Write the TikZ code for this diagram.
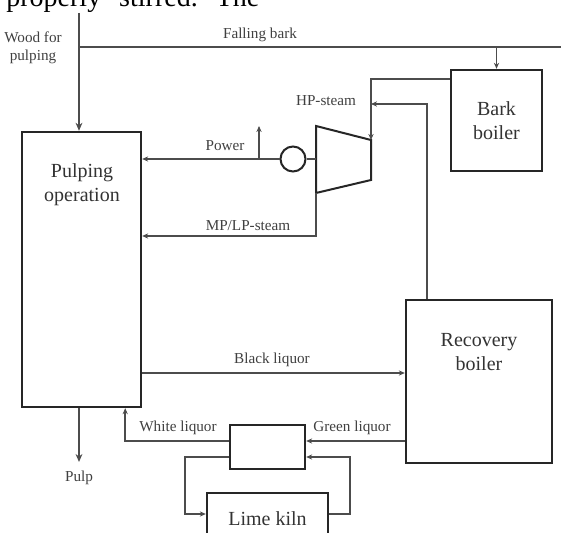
\documentclass[tikz,border=0pt]{standalone}
\usepackage{fontspec}
\setmainfont{Liberation Serif}
\usepackage{tikz}
\usetikzlibrary{arrows.meta,positioning,calc}

\begin{document}
\begin{tikzpicture}[x=0.5pt, y=-0.5pt,
    box/.style={draw=black!85, line width=1.2pt, inner sep=0pt, align=center,
      font=\fontsize{10}{12}\selectfont, text=black!80},
    flow/.style={draw=black!70, line width=0.8pt},
    arr/.style={flow, -{Stealth[length=3pt,width=2.6pt]}},
    lbl/.style={font=\fontsize{7.6}{9}\selectfont, text=black!75, inner sep=1pt, align=center},
    big/.style={font=\fontsize{10}{12}\selectfont, text=black!80, align=center}]
    \useasboundingbox (0,0) rectangle (561,533);
    \node[anchor=base west, inner sep=0pt, font=\fontsize{14}{16}\selectfont] (pagetext)
      at (6,7) {properly\hspace{9pt}stirred.\hspace{9pt}The};

    \node[box, minimum width=59.5pt, minimum height=137.5pt] (pulping) at (81.5,269.5) {};
    \node[big] (pulpingtxt) at (82,185) {Pulping\\operation};
    \node[box, minimum width=73pt, minimum height=81.5pt] (recovery) at (479,381.5) {};
    \node[big] (recoverytxt) at (479,352) {Recovery\\boiler};
    \node[box, minimum width=45.5pt, minimum height=50.5pt] (bark) at (496.5,120.5) {Bark\\boiler};
    \node[box, minimum width=37.5pt, minimum height=22pt] (caust) at (267.5,447) {};
    \node[box, minimum width=60.5pt, minimum height=26pt] (kiln) at (267.5,519) {Lime kiln};
    \node[draw=black!85, line width=1pt, circle, minimum size=12.5pt, inner sep=0pt] (gen) at (293,159) {};

    \coordinate (tnw) at (316,126);
    \coordinate (tne) at (371,140);
    \coordinate (tse) at (371,180);
    \coordinate (tsw) at (316,193);
    \draw[draw=black!85, line width=1pt] (tnw) -- (tne) -- (tse) -- (tsw) -- cycle;

    \coordinate (woodtop) at (79,13);
    \coordinate (barkend) at (561,47);
    \draw[flow, line width=1.1pt, -{Stealth[length=4pt,width=3.4pt]}] (woodtop) -- (woodtop |- pulping.north);
    \draw[flow] (woodtop |- barkend) -- (barkend);
    \draw[arr] (bark.north |- barkend) -- (bark.north);
    \node[lbl] (woodlbl) at (33,48) {Wood for\\pulping};
    \node[lbl] (barklbl) at (260,35) {Falling bark};

    \draw[arr] ($(bark.north west)+(0,10)$) -| (tne);
    \coordinate (hpjoin) at (371,104);
    \draw[arr] ($(recovery.north west)+(22,0)$) |- (hpjoin);
    \node[lbl] (hplbl) at (326,101) {HP-steam};

    \draw[flow] (gen.east) -- (gen.east -| tnw);
    \draw[arr] (gen.west) -- (gen.west -| pulping.east);
    \coordinate (powtap) at (259,159);
    \coordinate (powout) at (259,126);
    \draw[arr] (powtap) -- (powout);
    \node[lbl] (powlbl) at (225,146) {Power};

    \draw[arr] (tsw) |- ($(pulping.east)+(0,-33.5)$);
    \node[lbl] (mplbl) at (248,226) {MP/LP-steam};

    \coordinate (blk) at ($(pulping.east)+(0,103.5)$);
    \draw[arr] (blk) -- (blk -| recovery.west);
    \node[lbl] (blklbl) at (272,360) {Black liquor};

    \coordinate (grn) at ($(caust.east)+(0,-6)$);
    \draw[arr] (grn -| recovery.west) -- (grn);
    \node[lbl] (grnlbl) at (352,428) {Green liquor};
    \coordinate (wht) at ($(caust.west)+(0,-6)$);
    \draw[arr] (wht) -| ($(pulping.south east)+(-17,0)$);
    \node[lbl] (whtlbl) at (178,428) {White liquor};

    \coordinate (pulpend) at (79,462);
    \draw[flow, line width=1.1pt, -{Stealth[length=4pt,width=3.4pt]}] (pulpend |- pulping.south) -- (pulpend);
    \node[lbl] (pulplbl) at (79,478) {Pulp};

    \coordinate (cout) at ($(caust.west)+(0,10)$);
    \coordinate (kin) at ($(kiln.west)+(0,-5)$);
    \draw[arr] (cout) -- ++(-44,0) |- (kin);
    \coordinate (kout) at ($(kiln.east)+(0,-5)$);
    \coordinate (cin) at ($(caust.east)+(0,10)$);
    \draw[arr] (kout) -- ++(21,0) |- (cin);
  \end{tikzpicture}
\end{document}
